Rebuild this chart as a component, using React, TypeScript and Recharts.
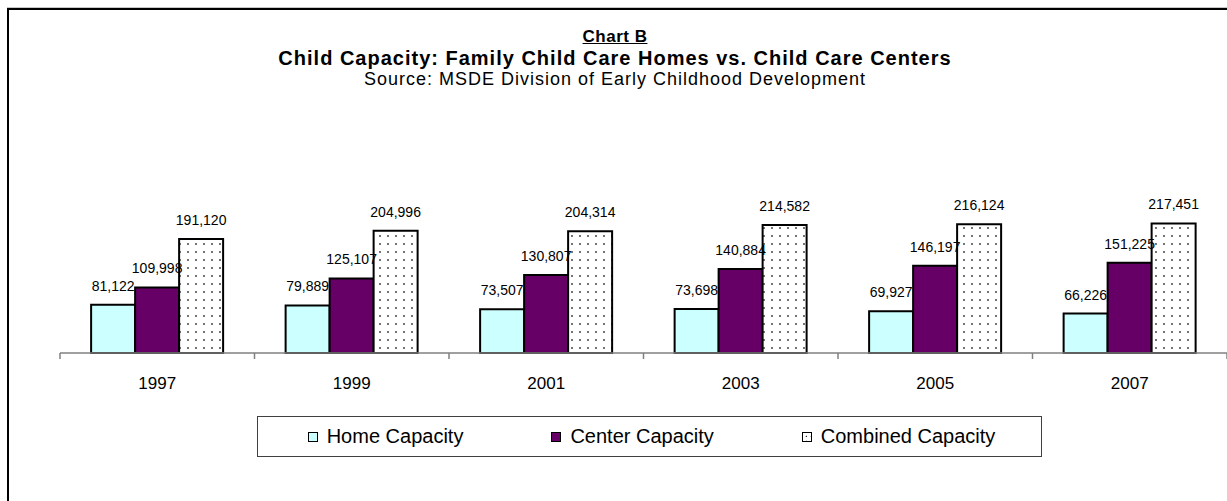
import React from "react";
import { BarChart, Bar, XAxis, YAxis, LabelList } from "recharts";

const years = ["1997", "1999", "2001", "2003", "2005", "2007"];
const homeCapacity = [81122, 79889, 73507, 73698, 69927, 66226];
const centerCapacity = [109998, 125107, 130807, 140884, 146197, 151225];
const combinedCapacity = [191120, 204996, 204314, 214582, 216124, 217451];

const series = [
  { key: "home", name: "Home Capacity", fill: "#CCFFFF" },
  { key: "center", name: "Center Capacity", fill: "#660066" },
  { key: "combined", name: "Combined Capacity", fill: "url(#dots)" },
];

const data = years.map((year, i) => ({
  year,
  idx: i + 0.5,
  home: homeCapacity[i],
  center: centerCapacity[i],
  combined: combinedCapacity[i],
}));

// tick marks sit on the category boundaries, not the centers
const boundaryTicks = years.map((_, i) => i).concat(years.length);

const FONT = "'Liberation Sans', Arial, sans-serif";
const fmt = (v: any) => Number(v).toLocaleString("en-US");

function LegendSwatch({ fill }: { fill: string }) {
  return (
    <svg width={10} height={10} style={{ marginRight: 9 }}>
      <defs>
        <pattern id="dotsSmall" width={5} height={5} patternUnits="userSpaceOnUse">
          <rect width={5} height={5} fill="#fff" />
          <circle cx={4.5} cy={4.5} r={0.8} fill="#222" />
        </pattern>
      </defs>
      <rect x={0.5} y={0.5} width={9} height={9} fill={fill === "url(#dots)" ? "url(#dotsSmall)" : fill} stroke="#000" strokeWidth={1} />
    </svg>
  );
}

export default function App() {
  return (
    <div style={{ position: "absolute", left: 0, top: 0, width: 1227, height: 501, overflow: "hidden", background: "#fff", fontFamily: FONT }}>
      <div style={{ position: "absolute", left: 7, top: 7, width: 1400, height: 700, borderTop: "1px solid #c8c8c8" }} />
      <div style={{ position: "absolute", left: 7, top: 8, width: 1400, height: 700, borderLeft: "2px solid #000", borderTop: "2px solid #000" }} />

      <div style={{ position: "absolute", left: 115, width: 1000, top: 27, textAlign: "center", fontSize: 17, fontWeight: "bold", lineHeight: "20px", textDecoration: "underline", letterSpacing: 0.5 }}>
        Chart B
      </div>
      <div style={{ position: "absolute", left: 115, width: 1000, top: 48, textAlign: "center", fontSize: 20, fontWeight: "bold", lineHeight: "20px", letterSpacing: 1 }}>
        Child Capacity: Family Child Care Homes vs. Child Care Centers
      </div>
      <div style={{ position: "absolute", left: 115, width: 1000, top: 69, textAlign: "center", fontSize: 18, lineHeight: "20px", letterSpacing: 1 }}>
        Source: MSDE Division of Early Childhood Development
      </div>

      <div style={{ position: "absolute", left: 0, top: 0 }}>
        <BarChart
          width={1227}
          height={501}
          data={data}
          margin={{ top: 204, right: 0, bottom: 102, left: 60 }}
          barCategoryGap="16%"
          barGap={0}
        >
          <defs>
            <pattern id="dots" width={8} height={8} patternUnits="userSpaceOnUse">
              <rect width={8} height={8} fill="#fff" />
              <circle cx={4} cy={4} r={0.9} fill="#333" />
            </pattern>
          </defs>
          <XAxis
            xAxisId="b1"
            dataKey="year"
            height={40}
            axisLine={false}
            tickLine={false}
            tickMargin={12}
            tick={{ fill: "#000", fontSize: 17, fontFamily: FONT }}
          />
          <XAxis
            xAxisId="a0"
            type="number"
            dataKey="idx"
            domain={[0, years.length]}
            ticks={boundaryTicks}
            interval={0}
            allowDataOverflow
            height={6}
            tick={() => <g />}
            tickSize={6}
            axisLine={{ stroke: "#808080", strokeWidth: 1.5 }}
            tickLine={{ stroke: "#808080", strokeWidth: 1.5 }}
          />
          <YAxis hide domain={[0, 250000]} />
          {series.map((s) => (
            <Bar
              key={s.key}
              xAxisId="b1"
              dataKey={s.key}
              name={s.name}
              fill={s.fill}
              stroke="#000"
              strokeWidth={2}
              isAnimationActive={false}
            >
              <LabelList
                dataKey={s.key}
                position="top"
                offset={14}
                formatter={fmt}
                style={{ fill: "#000", fontSize: 14, fontFamily: FONT }}
              />
            </Bar>
          ))}
        </BarChart>
      </div>

      <div
        style={{
          position: "absolute",
          left: 257,
          top: 416,
          width: 779,
          height: 39,
          border: "1px solid #404040",
          display: "flex",
          alignItems: "center",
          justifyContent: "center",
          gap: 88,
          fontSize: 20,
          paddingLeft: 4,
          boxSizing: "content-box",
        }}
      >
        {series.map((s) => (
          <div key={s.key} style={{ display: "flex", alignItems: "center" }}>
            <LegendSwatch fill={s.fill} />
            <span>{s.name}</span>
          </div>
        ))}
      </div>
    </div>
  );
}
